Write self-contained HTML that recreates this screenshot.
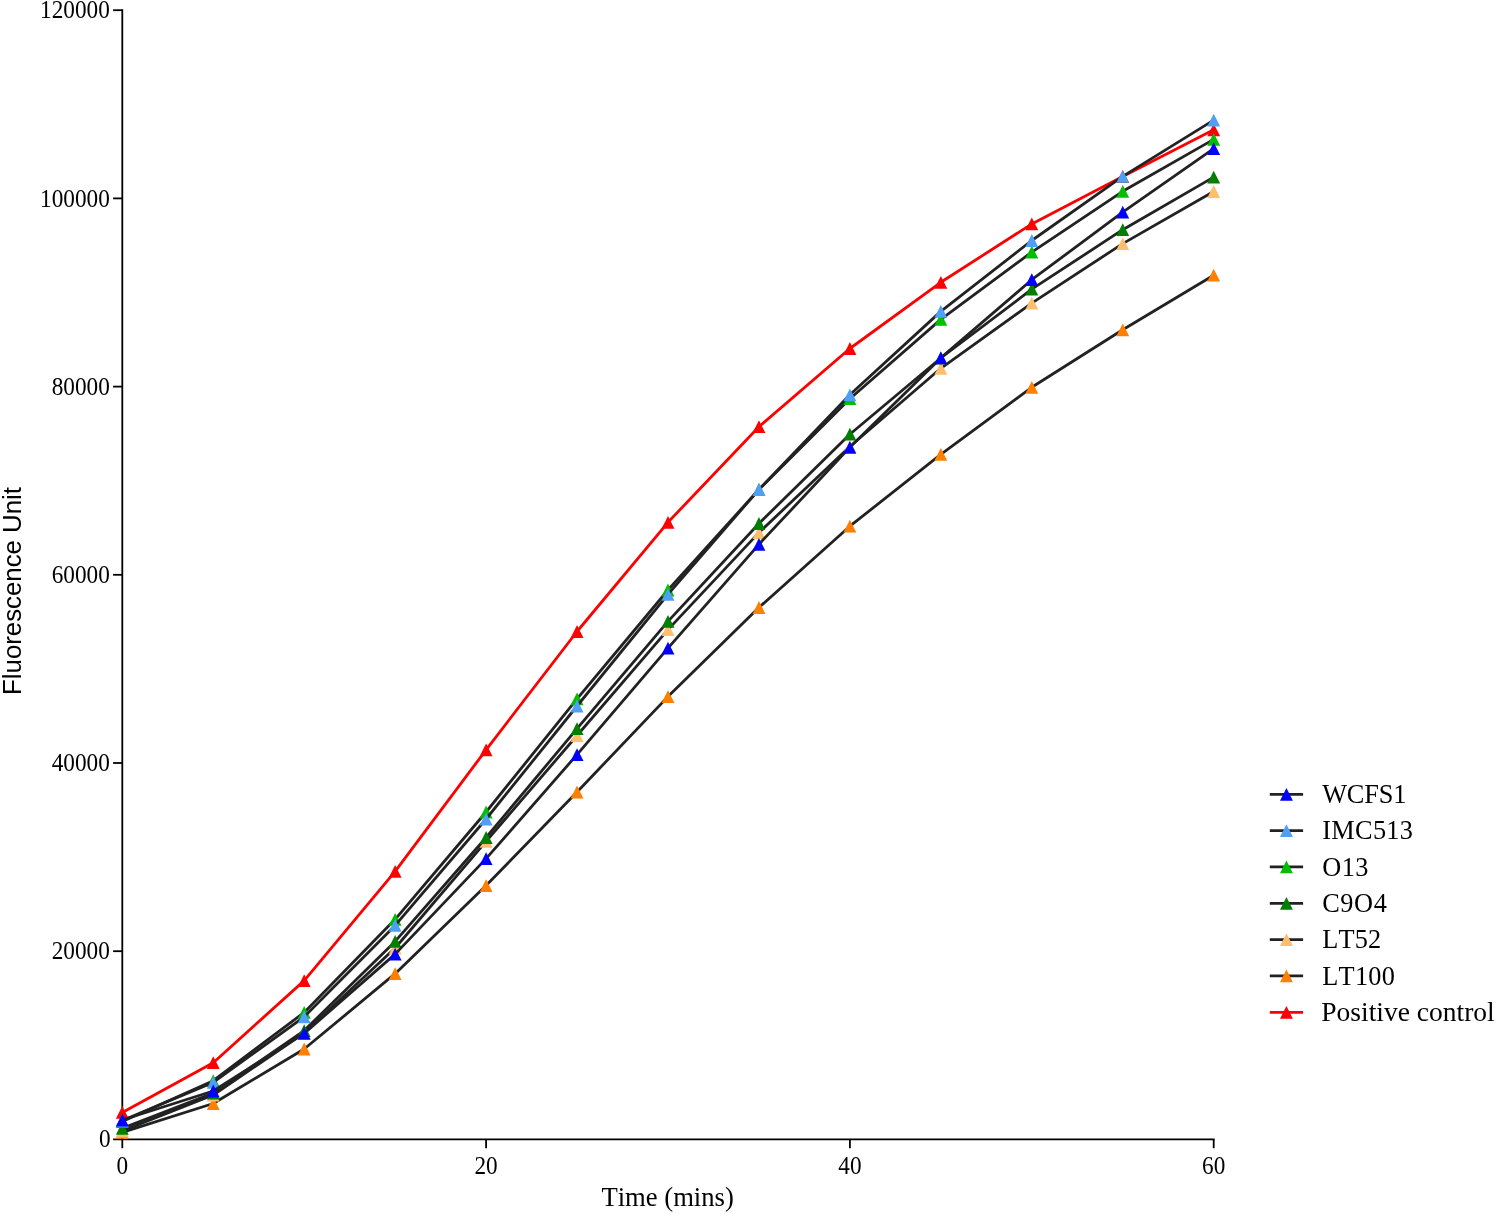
<!DOCTYPE html>
<html><head><meta charset="utf-8"><style>
html,body{margin:0;padding:0;background:#fff;}
body{width:1496px;height:1214px;overflow:hidden;}
svg{display:block;will-change:transform;}
text{font-kerning:none;text-rendering:optimizeSpeed;}
.tk{font-family:"Liberation Serif",serif;font-size:24.6px;fill:#000;}
.ttl{font-family:"Liberation Serif",serif;font-size:26.65px;fill:#000;}
.lg{font-family:"Liberation Serif",serif;font-size:26.3px;fill:#000;}
.ytl{font-family:"Liberation Sans",sans-serif;font-size:25.8px;fill:#000;}
</style></head><body>
<svg width="1496" height="1214" viewBox="0 0 1496 1214">
<rect width="1496" height="1214" fill="#fff"/>
<line x1="122.3" y1="9.299999999999999" x2="122.3" y2="1139.4" stroke="#000" stroke-width="1.8"/>
<line x1="113.1" y1="1139.4" x2="1214.6000000000001" y2="1139.4" stroke="#000" stroke-width="1.8"/>
<line x1="113.1" y1="951.20" x2="122.3" y2="951.20" stroke="#000" stroke-width="1.8"/>
<line x1="113.1" y1="763.00" x2="122.3" y2="763.00" stroke="#000" stroke-width="1.8"/>
<line x1="113.1" y1="574.80" x2="122.3" y2="574.80" stroke="#000" stroke-width="1.8"/>
<line x1="113.1" y1="386.60" x2="122.3" y2="386.60" stroke="#000" stroke-width="1.8"/>
<line x1="113.1" y1="198.40" x2="122.3" y2="198.40" stroke="#000" stroke-width="1.8"/>
<line x1="113.1" y1="10.20" x2="122.3" y2="10.20" stroke="#000" stroke-width="1.8"/>
<line x1="122.30" y1="1139.4" x2="122.30" y2="1148.2" stroke="#000" stroke-width="1.8"/>
<line x1="486.10" y1="1139.4" x2="486.10" y2="1148.2" stroke="#000" stroke-width="1.8"/>
<line x1="849.90" y1="1139.4" x2="849.90" y2="1148.2" stroke="#000" stroke-width="1.8"/>
<line x1="1213.70" y1="1139.4" x2="1213.70" y2="1148.2" stroke="#000" stroke-width="1.8"/>
<polyline points="122.30,1112.40 213.25,1062.70 304.20,980.60 395.15,871.30 486.10,749.80 577.05,631.50 668.00,522.30 758.95,426.70 849.90,348.50 940.85,282.30 1031.80,223.90 1122.75,176.50 1213.70,129.80" fill="none" stroke="#ff0000" stroke-width="2.8" stroke-linejoin="round" stroke-linecap="butt"/>
<path d="M122.30 1106.00L128.75 1118.80L115.85 1118.80Z" fill="#ff0000"/>
<path d="M213.25 1056.30L219.70 1069.10L206.80 1069.10Z" fill="#ff0000"/>
<path d="M304.20 974.20L310.65 987.00L297.75 987.00Z" fill="#ff0000"/>
<path d="M395.15 864.90L401.60 877.70L388.70 877.70Z" fill="#ff0000"/>
<path d="M486.10 743.40L492.55 756.20L479.65 756.20Z" fill="#ff0000"/>
<path d="M577.05 625.10L583.50 637.90L570.60 637.90Z" fill="#ff0000"/>
<path d="M668.00 515.90L674.45 528.70L661.55 528.70Z" fill="#ff0000"/>
<path d="M758.95 420.30L765.40 433.10L752.50 433.10Z" fill="#ff0000"/>
<path d="M849.90 342.10L856.35 354.90L843.45 354.90Z" fill="#ff0000"/>
<path d="M940.85 275.90L947.30 288.70L934.40 288.70Z" fill="#ff0000"/>
<path d="M1031.80 217.50L1038.25 230.30L1025.35 230.30Z" fill="#ff0000"/>
<path d="M1122.75 170.10L1129.20 182.90L1116.30 182.90Z" fill="#ff0000"/>
<path d="M1213.70 123.40L1220.15 136.20L1207.25 136.20Z" fill="#ff0000"/>
<polyline points="122.30,1132.30 213.25,1103.50 304.20,1049.00 395.15,973.70 486.10,885.60 577.05,792.00 668.00,696.60 758.95,607.50 849.90,526.20 940.85,454.30 1031.80,387.30 1122.75,329.80 1213.70,275.20" fill="none" stroke="#222222" stroke-width="2.8" stroke-linejoin="round" stroke-linecap="butt"/>
<path d="M122.30 1125.90L128.75 1138.70L115.85 1138.70Z" fill="#ff7f00"/>
<path d="M213.25 1097.10L219.70 1109.90L206.80 1109.90Z" fill="#ff7f00"/>
<path d="M304.20 1042.60L310.65 1055.40L297.75 1055.40Z" fill="#ff7f00"/>
<path d="M395.15 967.30L401.60 980.10L388.70 980.10Z" fill="#ff7f00"/>
<path d="M486.10 879.20L492.55 892.00L479.65 892.00Z" fill="#ff7f00"/>
<path d="M577.05 785.60L583.50 798.40L570.60 798.40Z" fill="#ff7f00"/>
<path d="M668.00 690.20L674.45 703.00L661.55 703.00Z" fill="#ff7f00"/>
<path d="M758.95 601.10L765.40 613.90L752.50 613.90Z" fill="#ff7f00"/>
<path d="M849.90 519.80L856.35 532.60L843.45 532.60Z" fill="#ff7f00"/>
<path d="M940.85 447.90L947.30 460.70L934.40 460.70Z" fill="#ff7f00"/>
<path d="M1031.80 380.90L1038.25 393.70L1025.35 393.70Z" fill="#ff7f00"/>
<path d="M1122.75 323.40L1129.20 336.20L1116.30 336.20Z" fill="#ff7f00"/>
<path d="M1213.70 268.80L1220.15 281.60L1207.25 281.60Z" fill="#ff7f00"/>
<polyline points="122.30,1131.00 213.25,1095.00 304.20,1033.00 395.15,948.00 486.10,841.30 577.05,735.50 668.00,629.60 758.95,532.60 849.90,446.50 940.85,368.30 1031.80,303.20 1122.75,243.60 1213.70,191.50" fill="none" stroke="#222222" stroke-width="2.8" stroke-linejoin="round" stroke-linecap="butt"/>
<path d="M122.30 1124.60L128.75 1137.40L115.85 1137.40Z" fill="#fdbf6f"/>
<path d="M213.25 1088.60L219.70 1101.40L206.80 1101.40Z" fill="#fdbf6f"/>
<path d="M304.20 1026.60L310.65 1039.40L297.75 1039.40Z" fill="#fdbf6f"/>
<path d="M395.15 941.60L401.60 954.40L388.70 954.40Z" fill="#fdbf6f"/>
<path d="M486.10 834.90L492.55 847.70L479.65 847.70Z" fill="#fdbf6f"/>
<path d="M577.05 729.10L583.50 741.90L570.60 741.90Z" fill="#fdbf6f"/>
<path d="M668.00 623.20L674.45 636.00L661.55 636.00Z" fill="#fdbf6f"/>
<path d="M758.95 526.20L765.40 539.00L752.50 539.00Z" fill="#fdbf6f"/>
<path d="M849.90 440.10L856.35 452.90L843.45 452.90Z" fill="#fdbf6f"/>
<path d="M940.85 361.90L947.30 374.70L934.40 374.70Z" fill="#fdbf6f"/>
<path d="M1031.80 296.80L1038.25 309.60L1025.35 309.60Z" fill="#fdbf6f"/>
<path d="M1122.75 237.20L1129.20 250.00L1116.30 250.00Z" fill="#fdbf6f"/>
<path d="M1213.70 185.10L1220.15 197.90L1207.25 197.90Z" fill="#fdbf6f"/>
<polyline points="122.30,1128.40 213.25,1093.10 304.20,1030.60 395.15,941.40 486.10,837.50 577.05,728.60 668.00,621.40 758.95,523.50 849.90,434.20 940.85,358.00 1031.80,289.20 1122.75,229.70 1213.70,177.10" fill="none" stroke="#222222" stroke-width="2.8" stroke-linejoin="round" stroke-linecap="butt"/>
<path d="M122.30 1122.00L128.75 1134.80L115.85 1134.80Z" fill="#007f00"/>
<path d="M213.25 1086.70L219.70 1099.50L206.80 1099.50Z" fill="#007f00"/>
<path d="M304.20 1024.20L310.65 1037.00L297.75 1037.00Z" fill="#007f00"/>
<path d="M395.15 935.00L401.60 947.80L388.70 947.80Z" fill="#007f00"/>
<path d="M486.10 831.10L492.55 843.90L479.65 843.90Z" fill="#007f00"/>
<path d="M577.05 722.20L583.50 735.00L570.60 735.00Z" fill="#007f00"/>
<path d="M668.00 615.00L674.45 627.80L661.55 627.80Z" fill="#007f00"/>
<path d="M758.95 517.10L765.40 529.90L752.50 529.90Z" fill="#007f00"/>
<path d="M849.90 427.80L856.35 440.60L843.45 440.60Z" fill="#007f00"/>
<path d="M940.85 351.60L947.30 364.40L934.40 364.40Z" fill="#007f00"/>
<path d="M1031.80 282.80L1038.25 295.60L1025.35 295.60Z" fill="#007f00"/>
<path d="M1122.75 223.30L1129.20 236.10L1116.30 236.10Z" fill="#007f00"/>
<path d="M1213.70 170.70L1220.15 183.50L1207.25 183.50Z" fill="#007f00"/>
<polyline points="122.30,1121.50 213.25,1080.70 304.20,1012.40 395.15,919.30 486.10,812.00 577.05,698.90 668.00,590.00 758.95,489.50 849.90,398.70 940.85,319.40 1031.80,252.10 1122.75,191.30 1213.70,139.40" fill="none" stroke="#222222" stroke-width="2.8" stroke-linejoin="round" stroke-linecap="butt"/>
<path d="M122.30 1115.10L128.75 1127.90L115.85 1127.90Z" fill="#00bf00"/>
<path d="M213.25 1074.30L219.70 1087.10L206.80 1087.10Z" fill="#00bf00"/>
<path d="M304.20 1006.00L310.65 1018.80L297.75 1018.80Z" fill="#00bf00"/>
<path d="M395.15 912.90L401.60 925.70L388.70 925.70Z" fill="#00bf00"/>
<path d="M486.10 805.60L492.55 818.40L479.65 818.40Z" fill="#00bf00"/>
<path d="M577.05 692.50L583.50 705.30L570.60 705.30Z" fill="#00bf00"/>
<path d="M668.00 583.60L674.45 596.40L661.55 596.40Z" fill="#00bf00"/>
<path d="M758.95 483.10L765.40 495.90L752.50 495.90Z" fill="#00bf00"/>
<path d="M849.90 392.30L856.35 405.10L843.45 405.10Z" fill="#00bf00"/>
<path d="M940.85 313.00L947.30 325.80L934.40 325.80Z" fill="#00bf00"/>
<path d="M1031.80 245.70L1038.25 258.50L1025.35 258.50Z" fill="#00bf00"/>
<path d="M1122.75 184.90L1129.20 197.70L1116.30 197.70Z" fill="#00bf00"/>
<path d="M1213.70 133.00L1220.15 145.80L1207.25 145.80Z" fill="#00bf00"/>
<polyline points="122.30,1120.50 213.25,1082.40 304.20,1016.80 395.15,925.40 486.10,819.00 577.05,706.00 668.00,594.30 758.95,489.50 849.90,394.80 940.85,311.40 1031.80,240.50 1122.75,176.40 1213.70,120.10" fill="none" stroke="#222222" stroke-width="2.8" stroke-linejoin="round" stroke-linecap="butt"/>
<path d="M122.30 1114.10L128.75 1126.90L115.85 1126.90Z" fill="#4f9ff6"/>
<path d="M213.25 1076.00L219.70 1088.80L206.80 1088.80Z" fill="#4f9ff6"/>
<path d="M304.20 1010.40L310.65 1023.20L297.75 1023.20Z" fill="#4f9ff6"/>
<path d="M395.15 919.00L401.60 931.80L388.70 931.80Z" fill="#4f9ff6"/>
<path d="M486.10 812.60L492.55 825.40L479.65 825.40Z" fill="#4f9ff6"/>
<path d="M577.05 699.60L583.50 712.40L570.60 712.40Z" fill="#4f9ff6"/>
<path d="M668.00 587.90L674.45 600.70L661.55 600.70Z" fill="#4f9ff6"/>
<path d="M758.95 483.10L765.40 495.90L752.50 495.90Z" fill="#4f9ff6"/>
<path d="M849.90 388.40L856.35 401.20L843.45 401.20Z" fill="#4f9ff6"/>
<path d="M940.85 305.00L947.30 317.80L934.40 317.80Z" fill="#4f9ff6"/>
<path d="M1031.80 234.10L1038.25 246.90L1025.35 246.90Z" fill="#4f9ff6"/>
<path d="M1122.75 170.00L1129.20 182.80L1116.30 182.80Z" fill="#4f9ff6"/>
<path d="M1213.70 113.70L1220.15 126.50L1207.25 126.50Z" fill="#4f9ff6"/>
<polyline points="122.30,1120.00 213.25,1091.00 304.20,1033.40 395.15,954.10 486.10,858.60 577.05,754.60 668.00,648.10 758.95,544.30 849.90,447.30 940.85,357.90 1031.80,279.70 1122.75,212.20 1213.70,148.60" fill="none" stroke="#222222" stroke-width="2.8" stroke-linejoin="round" stroke-linecap="butt"/>
<path d="M122.30 1113.60L128.75 1126.40L115.85 1126.40Z" fill="#0000ff"/>
<path d="M213.25 1084.60L219.70 1097.40L206.80 1097.40Z" fill="#0000ff"/>
<path d="M304.20 1027.00L310.65 1039.80L297.75 1039.80Z" fill="#0000ff"/>
<path d="M395.15 947.70L401.60 960.50L388.70 960.50Z" fill="#0000ff"/>
<path d="M486.10 852.20L492.55 865.00L479.65 865.00Z" fill="#0000ff"/>
<path d="M577.05 748.20L583.50 761.00L570.60 761.00Z" fill="#0000ff"/>
<path d="M668.00 641.70L674.45 654.50L661.55 654.50Z" fill="#0000ff"/>
<path d="M758.95 537.90L765.40 550.70L752.50 550.70Z" fill="#0000ff"/>
<path d="M849.90 440.90L856.35 453.70L843.45 453.70Z" fill="#0000ff"/>
<path d="M940.85 351.50L947.30 364.30L934.40 364.30Z" fill="#0000ff"/>
<path d="M1031.80 273.30L1038.25 286.10L1025.35 286.10Z" fill="#0000ff"/>
<path d="M1122.75 205.80L1129.20 218.60L1116.30 218.60Z" fill="#0000ff"/>
<path d="M1213.70 142.20L1220.15 155.00L1207.25 155.00Z" fill="#0000ff"/>
<text x="117.04" y="1147.10" transform="scale(0.945,1)" text-anchor="end" class="tk">0</text>
<text x="116.19" y="959.00" transform="scale(0.945,1)" text-anchor="end" class="tk">20000</text>
<text x="116.19" y="770.70" transform="scale(0.945,1)" text-anchor="end" class="tk">40000</text>
<text x="116.19" y="583.50" transform="scale(0.945,1)" text-anchor="end" class="tk">60000</text>
<text x="116.19" y="395.30" transform="scale(0.945,1)" text-anchor="end" class="tk">80000</text>
<text x="116.19" y="207.10" transform="scale(0.945,1)" text-anchor="end" class="tk">100000</text>
<text x="116.19" y="18.40" transform="scale(0.945,1)" text-anchor="end" class="tk">120000</text>
<text x="129.42" y="1174.5" transform="scale(0.945,1)" text-anchor="middle" class="tk">0</text>
<text x="514.39" y="1174.5" transform="scale(0.945,1)" text-anchor="middle" class="tk">20</text>
<text x="899.37" y="1174.5" transform="scale(0.945,1)" text-anchor="middle" class="tk">40</text>
<text x="1284.34" y="1174.5" transform="scale(0.945,1)" text-anchor="middle" class="tk">60</text>
<text x="667.6" y="1205.8" text-anchor="middle" class="ttl">Time (mins)</text>
<text transform="translate(21.1,591) rotate(-90)" text-anchor="middle" class="ytl">Fluorescence Unit</text>
<line x1="1269.8" y1="794.30" x2="1303.1" y2="794.30" stroke="#222222" stroke-width="2.8"/>
<path d="M1286.45 787.90L1292.90 800.70L1280.00 800.70Z" fill="#0000ff"/>
<text x="1322.2" y="803.10" class="lg" letter-spacing="-0.15">WCFS1</text>
<line x1="1269.8" y1="830.63" x2="1303.1" y2="830.63" stroke="#222222" stroke-width="2.8"/>
<path d="M1286.45 824.23L1292.90 837.03L1280.00 837.03Z" fill="#4f9ff6"/>
<text x="1322.2" y="839.43" class="lg" letter-spacing="0.34">IMC513</text>
<line x1="1269.8" y1="866.96" x2="1303.1" y2="866.96" stroke="#222222" stroke-width="2.8"/>
<path d="M1286.45 860.56L1292.90 873.36L1280.00 873.36Z" fill="#00bf00"/>
<text x="1322.2" y="875.76" class="lg" letter-spacing="0.5">O13</text>
<line x1="1269.8" y1="903.29" x2="1303.1" y2="903.29" stroke="#222222" stroke-width="2.8"/>
<path d="M1286.45 896.89L1292.90 909.69L1280.00 909.69Z" fill="#007f00"/>
<text x="1322.2" y="912.09" class="lg" letter-spacing="0.6">C9O4</text>
<line x1="1269.8" y1="939.62" x2="1303.1" y2="939.62" stroke="#222222" stroke-width="2.8"/>
<path d="M1286.45 933.22L1292.90 946.02L1280.00 946.02Z" fill="#fdbf6f"/>
<text x="1322.2" y="948.42" class="lg" letter-spacing="0.17">LT52</text>
<line x1="1269.8" y1="975.95" x2="1303.1" y2="975.95" stroke="#222222" stroke-width="2.8"/>
<path d="M1286.45 969.55L1292.90 982.35L1280.00 982.35Z" fill="#ff7f00"/>
<text x="1322.2" y="984.75" class="lg" letter-spacing="0.3">LT100</text>
<line x1="1269.8" y1="1012.28" x2="1303.1" y2="1012.28" stroke="#ff0000" stroke-width="2.8"/>
<path d="M1286.45 1005.88L1292.90 1018.68L1280.00 1018.68Z" fill="#ff0000"/>
<text x="1321.3" y="1021.18" class="lg" textLength="173.4" lengthAdjust="spacingAndGlyphs">Positive control</text>
</svg>
</body></html>
